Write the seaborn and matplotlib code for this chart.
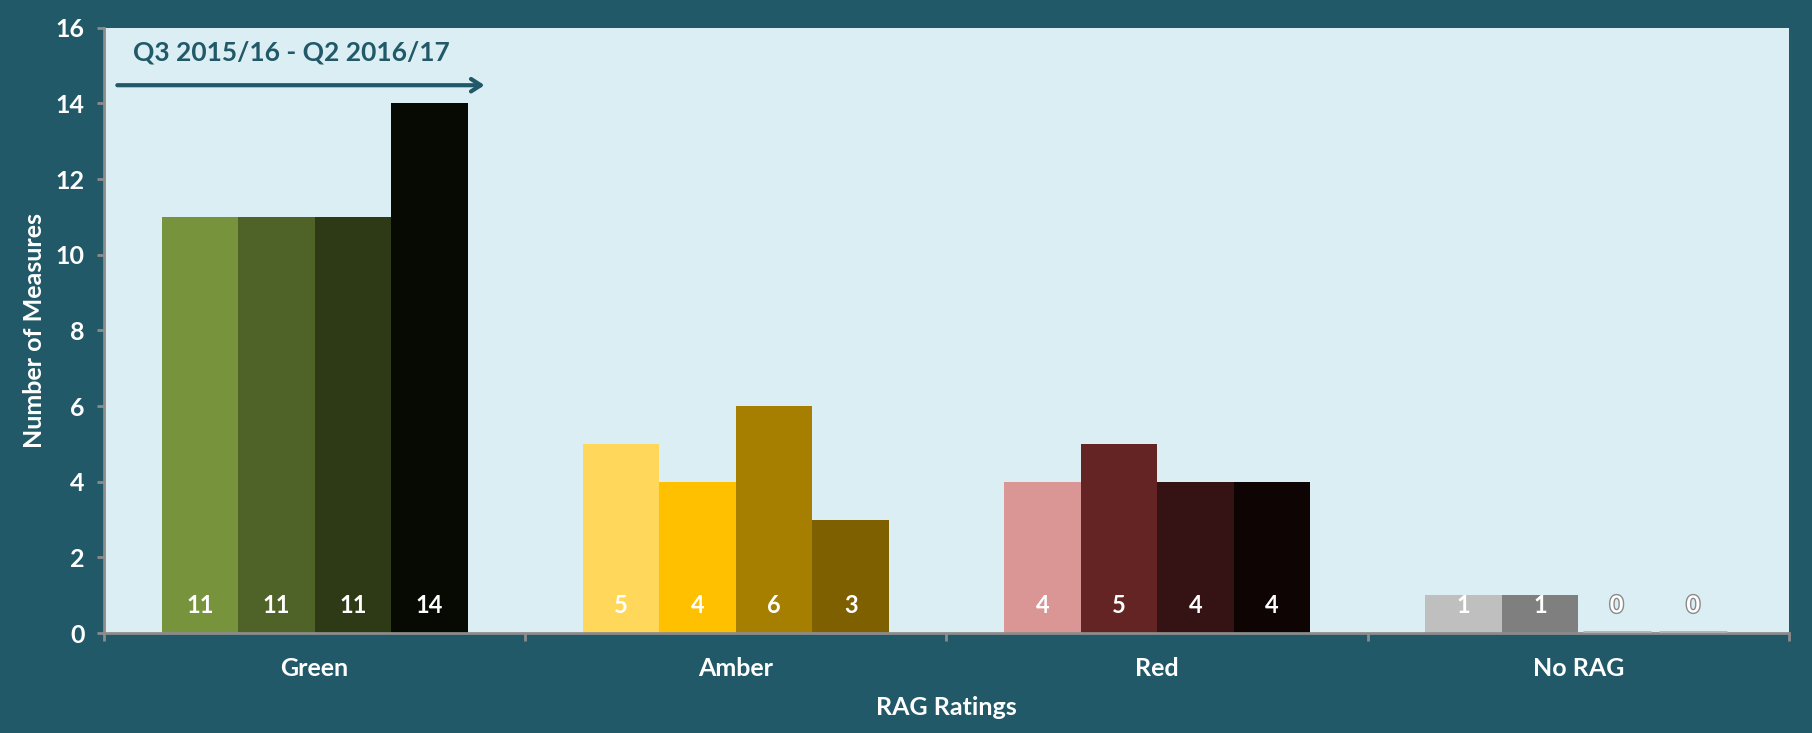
import numpy as np
import pandas as pd
import seaborn as sns
import matplotlib.pyplot as plt
import matplotlib.patheffects as pe

# data
categories = ["Green", "Amber", "Red", "No RAG"]
quarters = ["Q3 2015/16", "Q4 2015/16", "Q1 2016/17", "Q2 2016/17"]
green_vals = [11, 11, 11, 14]
amber_vals = [5, 4, 6, 3]
red_vals = [4, 5, 4, 4]
norag_vals = [1, 1, 0, 0]

bar_colors = {
    "Green": ["#77933C", "#4F6228", "#2E3A16", "#060A02"],
    "Amber": ["#FFD85B", "#FFC000", "#A67F00", "#7F6000"],
    "Red": ["#DA9694", "#632423", "#351314", "#0E0404"],
    "No RAG": ["#BFBFBF", "#7F7F7F", "#595959", "#262626"],
}

rows = []
for cat, vals in zip(categories, [green_vals, amber_vals, red_vals, norag_vals]):
    for q, v in zip(quarters, vals):
        rows.append({"RAG": cat, "Quarter": q, "Measures": v})
df = pd.DataFrame(rows)

BG = "#215968"
PLOT_BG = "#DBEEF4"
AXIS_GREY = "#8C8C8C"

sns.set_style("white")
plt.rcParams["font.family"] = ["Lato", "DejaVu Sans"]
plt.rcParams["font.weight"] = "bold"

fig = plt.figure(figsize=(18.12, 7.33), dpi=100, facecolor=BG)
ax = fig.add_axes([0.0574, 0.1364, 0.9299, 0.8258])
ax.set_facecolor(PLOT_BG)

sns.barplot(data=df, x="RAG", y="Measures", hue="Quarter", order=categories,
            hue_order=quarters, width=0.727, legend=False, ax=ax,
            linewidth=0, saturation=1)

# colour each bar by rating + quarter, add value labels
for qi, cont in enumerate(ax.containers):
    for ci, bar in enumerate(cont):
        cat = categories[ci]
        bar.set_facecolor(bar_colors[cat][qi])
        bar.set_edgecolor("none")
        val = df[(df.RAG == cat) & (df.Quarter == quarters[qi])].Measures.iloc[0]
        cx = bar.get_x() + bar.get_width() / 2
        t = ax.text(cx, 0.74, f"{val}", ha="center", va="center", color="white",
                    fontsize=17, fontweight="bold")
        if val == 0:
            t.set_path_effects([pe.withStroke(linewidth=2, foreground="#8A8A8A")])
            ax.plot([bar.get_x() + 0.01, bar.get_x() + bar.get_width() - 0.01], [0.03, 0.03],
                    color="#B0B0B0", lw=2, solid_capstyle="butt", zorder=3)

ax.set_xlim(-0.5, 3.5)
ax.set_ylim(0, 16)
ax.set_yticks(np.arange(0, 17, 2))

# axes styling
for s in ["top", "right"]:
    ax.spines[s].set_visible(False)
for s in ["left", "bottom"]:
    ax.spines[s].set_color(AXIS_GREY)
    ax.spines[s].set_linewidth(2)

ax.tick_params(axis="y", colors=AXIS_GREY, length=5, width=2, direction="out",
               labelcolor="white", labelsize=18, left=True, pad=9)
ax.tick_params(axis="x", which="major", length=0, labelcolor="white", labelsize=18, pad=17)
ax.set_xticks([-0.5, 0.5, 1.5, 2.5, 3.5], minor=True)
ax.tick_params(axis="x", which="minor", length=6, width=2, colors=AXIS_GREY, direction="out", bottom=True)
for lab in ax.get_xticklabels() + ax.get_yticklabels():
    lab.set_fontweight("bold")

ax.set_xlabel("RAG Ratings", color="white", fontsize=18, fontweight="bold", labelpad=12)
ax.set_ylabel("Number of Measures", color="white", fontsize=18, fontweight="bold", labelpad=7)

# period arrow
ax.annotate("", xy=(0.41, 14.48), xytext=(-0.475, 14.48),
            arrowprops=dict(arrowstyle="->,head_length=0.7,head_width=0.45",
                            color=BG, lw=3))
ax.text(-0.43, 15.35, "Q3 2015/16 - Q2 2016/17", color=BG, fontsize=19,
        fontweight="bold", ha="left", va="center")

fig.savefig("out.png", dpi=100, facecolor=BG)
